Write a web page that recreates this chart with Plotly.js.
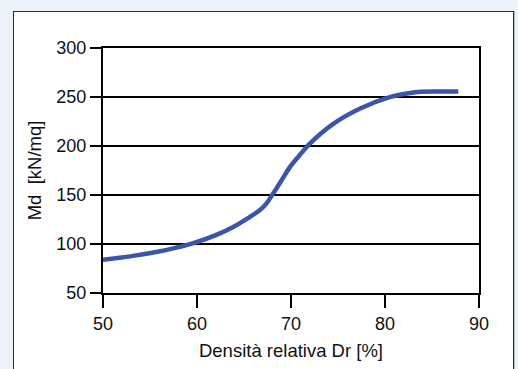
<!DOCTYPE html>
<html>
<head>
<meta charset="utf-8">
<script src="https://cdn.plot.ly/plotly-3.0.1.min.js"></script>
<style>
  html, body { margin: 0; padding: 0; width: 518px; height: 369px; overflow: hidden; background: #ecf3fa; }
  #box { position: absolute; left: 13px; top: 11px; width: 499px; height: 400px; background: #ffffff; border: 1.5px solid #2e2e2e; box-shadow: 1px 0 0 #b8bcc0; }
  #chart { position: absolute; left: 0; top: 0; width: 518px; height: 369px; }
</style>
</head>
<body>
<div id="box"></div>
<div id="chart"></div>
<script>
// Relative density Dr [%]
const densita = [50, 53.2, 56.8, 59.6, 62, 63.9, 65.6, 66.6, 67.4, 68.1, 69.0, 69.9, 71.0, 72.0, 74.5, 77.3, 80.5, 82.5, 83.8, 86, 87.8];
// Md [kN/mq]
const md = [83.8, 87.9, 94, 100.8, 109, 117.7, 127.5, 134, 141.5, 151.6, 165, 178.7, 191.5, 202.4, 222.6, 238, 249.8, 253.8, 255.4, 255.6, 255.6];

const xTicks = [50, 60, 70, 80, 90];
const yTicks = [50, 100, 150, 200, 250, 300];

const font = 'Liberation Sans, Arial, sans-serif';
const txt = '#111111';

Plotly.newPlot('chart', [{
  x: densita,
  y: md,
  type: 'scatter',
  mode: 'lines',
  line: { color: '#3b56a8', width: 4.5, shape: 'spline', smoothing: 0.8 },
  hoverinfo: 'skip'
}], {
  width: 518,
  height: 369,
  margin: { l: 103, r: 39, t: 48, b: 76, pad: 0 },
  paper_bgcolor: 'rgba(0,0,0,0)',
  plot_bgcolor: '#ffffff',
  showlegend: false,
  font: { family: font, size: 18, color: txt },
  xaxis: {
    range: [50, 90],
    tickvals: xTicks,
    ticktext: xTicks.map(String),
    ticks: 'outside',
    ticklen: 13,
    tickwidth: 2,
    tickcolor: '#000',
    showgrid: false,
    zeroline: false,
    showline: true,
    linecolor: '#000',
    linewidth: 2,
    mirror: true,
    tickfont: { family: font, size: 18, color: txt },
    title: { text: 'Densità relativa Dr [%]', font: { family: font, size: 18.5, color: txt }, standoff: 11 }
  },
  yaxis: {
    range: [50, 300],
    tickvals: yTicks,
    ticktext: yTicks.map(String),
    ticks: 'outside',
    ticklen: 11,
    tickwidth: 2,
    tickcolor: '#000',
    showgrid: true,
    gridcolor: '#000',
    gridwidth: 2,
    zeroline: false,
    showline: true,
    linecolor: '#000',
    linewidth: 2,
    mirror: true,
    tickfont: { family: font, size: 18, color: txt },
    title: { text: 'Md\u00a0\u00a0[kN/mq]', font: { family: font, size: 18.5, color: txt }, standoff: 10 }
  }
}, { staticPlot: true, displayModeBar: false });
</script>
</body>
</html>
